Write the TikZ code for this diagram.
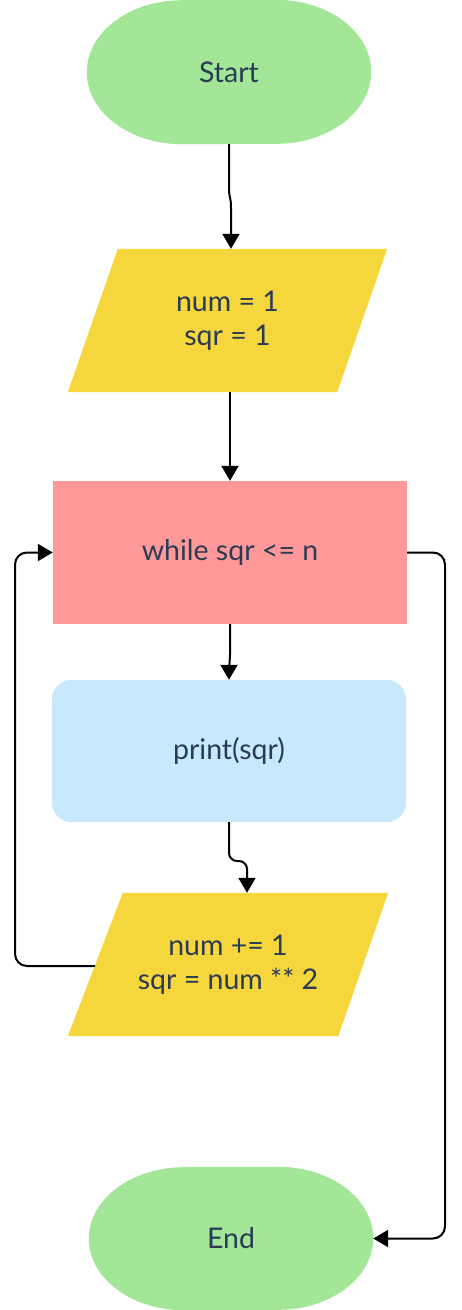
\documentclass[tikz,border=0pt]{standalone}
\usepackage{fontspec}
\setmainfont{Lato}
\usetikzlibrary{arrows.meta}
\pgfdeclarelayer{background}
\pgfsetlayers{background,main}
\definecolor{termgreen}{HTML}{A3E698}
\definecolor{iogold}{HTML}{F5D63D}
\definecolor{condred}{HTML}{FF9999}
\definecolor{actblue}{HTML}{C7E9FD}
\definecolor{ink}{HTML}{2B3A55}
\tikzset{
  label box/.style={draw=none, inner sep=0pt, align=center, text=ink,
    font=\fontsize{28.5}{34}\selectfont},
  flow/.style={line width=2pt, draw=black, -{Triangle[length=15pt,width=17pt]}},
}
\begin{document}
\begin{tikzpicture}[x=1pt,y=-1pt]
\useasboundingbox (0,0) rectangle (462,1310);

% named boxes carrying the texts
\node[label box, minimum width=284pt, minimum height=144pt] (start) at (229,72) {Start};
\node[label box, minimum width=319pt, minimum height=143pt] (in1) at (227.5,320.5) {num = 1\\sqr = 1};
\node[label box, minimum width=354pt, minimum height=143pt] (cond) at (230,552.5) {while sqr <= n};
\node[label box, minimum width=354pt, minimum height=142pt] (prt) at (229,751) {print(sqr)};
\node[label box, minimum width=320pt, minimum height=143pt] (upd) at (228,964.5) {num += 1\\sqr = num ** 2};
\node[label box, minimum width=284pt, minimum height=143pt] (end) at (231,1238.5) {End};

% shape fills behind the texts
\begin{pgfonlayer}{background}
  \fill[termgreen] ([xshift=95pt]start.north west) -- ([xshift=-95pt]start.north east)
    arc[start angle=90, end angle=-90, x radius=95pt, y radius=72pt]
    -- ([xshift=95pt]start.south west)
    arc[start angle=270, end angle=90, x radius=95pt, y radius=72pt] -- cycle;
  \fill[iogold] ([xshift=50pt]in1.north west) -- (in1.north east)
    -- ([xshift=-50pt]in1.south east) -- (in1.south west) -- cycle;
  \fill[condred] (cond.north west) rectangle (cond.south east);
  \fill[actblue, rounded corners=20pt] (prt.north west) rectangle (prt.south east);
  \fill[iogold] ([xshift=55pt]upd.north west) -- (upd.north east)
    -- ([xshift=-50pt]upd.south east) -- (upd.south west) -- cycle;
  \fill[termgreen] ([xshift=95pt]end.north west) -- ([xshift=-95pt]end.north east)
    arc[start angle=90, end angle=-90, x radius=95pt, y radius=71.5pt]
    -- ([xshift=95pt]end.south west)
    arc[start angle=270, end angle=90, x radius=95pt, y radius=71.5pt] -- cycle;
\end{pgfonlayer}

\coordinate (updleft) at (95,966);

% connectors
\draw[flow] (start.south) -- (229,188) .. controls (229,199) and (231,196) .. (231,208)
  -- ([xshift=3.5pt]in1.north);
\draw[flow] ([xshift=2.5pt]in1.south) -- (cond.north);
\draw[flow] (cond.south) -- (230,655) .. controls (230,664) and (229,664) .. (229,672)
  -- (prt.north);
\draw[flow, rounded corners=8pt] (prt.south) -- (229,861) -- (247,861)
  -- ([xshift=19pt]upd.north);
\draw[flow, rounded corners=12pt] (updleft) -- (15,966) -- (15,552.5) -- (cond.west);
\draw[flow, rounded corners=12pt] (cond.east) -- (445,552.5) -- (445,1238.5) -- (end.east);
\end{tikzpicture}
\end{document}
